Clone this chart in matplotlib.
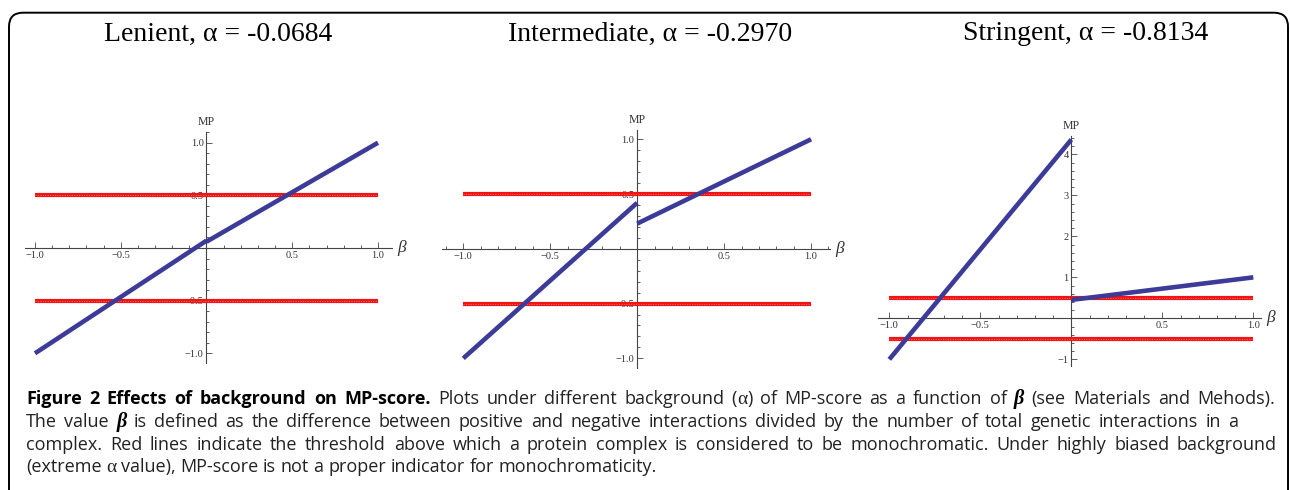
import matplotlib
matplotlib.use("Agg")
import matplotlib.pyplot as plt
from matplotlib.patches import FancyBboxPatch
from matplotlib.transforms import IdentityTransform
from matplotlib.offsetbox import TextArea, HPacker, AnchoredOffsetbox
from matplotlib.ticker import FixedLocator, MultipleLocator

# MP-score as a function of beta, under three backgrounds
panel_titles = ["Lenient, α = -0.0684", "Intermediate, α = -0.2970", "Stringent, α = -0.8134"]
beta_neg = [-1.0, 0.0]
beta_pos = [0.0, 1.0]
mp_neg = [[-1.0, 0.07], [-1.0, 0.42], [-1.0, 4.36]]
mp_pos = [[0.06, 1.0], [0.23, 1.0], [0.45, 1.0]]
threshold_beta = [-1.0, 1.0]
thresholds = [0.5, -0.5]

x_ticks = [-1.0, -0.5, 0.5, 1.0]
x_tick_labels = ["\u22121.0", "\u22120.5", "0.5", "1.0"]
y_ticks = [[1.0, 0.5, -0.5, -1.0], [1.0, 0.5, -0.5, -1.0], [4, 3, 2, 1, -1]]
y_tick_labels = [["1.0", "0.5", "\u22120.5", "\u22121.0"],
                 ["1.0", "0.5", "\u22120.5", "\u22121.0"],
                 ["4", "3", "2", "1", "\u22121"]]
y_minor_step = [0.1, 0.1, 0.2]

caption_lines = [
    [("Figure 2 Effects of background on MP-score.", "bold"),
     ("Plots under different background", "reg"), ("(α)", "alpha"),
     ("of MP-score as a function of", "reg"), ("β", "beta"),
     ("(see Materials and Mehods).", "reg")],
    [("The value", "reg"), ("β", "beta"),
     ("is defined as the difference between positive and negative interactions divided by the number of total genetic interactions in a", "reg")],
    [("complex. Red lines indicate the threshold above which a protein complex is considered to be monochromatic. Under highly biased background", "reg")],
    [("(extreme", "reg"), ("α", "alpha"),
     ("value), MP-score is not a proper indicator for monochromaticity.", "reg")],
]

# layout in pixels (figure is 1290x490)
W, H = 1290, 490
axes_px = [(24.7, 132.2, 391.7, 362.8), (442.4, 130.5, 830.2, 368.2), (878.4, 135.9, 1260.6, 365.5)]
xlims = [(-1.06, 1.08), (-1.12, 1.11), (-1.06, 1.04)]
ylims = [(-1.09, 1.10), (-1.09, 1.08), (-1.15, 4.45)]
title_x = [218, 650, 1086]
caption_y = [399, 422, 445, 467]
caption_w = [1249, 1212, 1251, None]

serif = ["Liberation Serif", "DejaVu Serif"]
sans = ["Open Sans", "DejaVu Sans"]
blue = "#3c3c98"
red = "#f01414"
axis_col = "#444444"
cap_size = 13


def word_box(word, kind):
    if kind == "bold":
        return TextArea(word, textprops=dict(family=sans, fontsize=cap_size, fontweight="bold", color="black"))
    if kind == "beta":
        return TextArea(word, textprops=dict(family=serif, fontsize=cap_size + 1.5, fontweight="bold",
                                             style="italic", color="black"))
    if kind == "alpha":
        parts = []
        for ch in word:
            if ch == "α":
                parts.append(TextArea(ch, textprops=dict(family=serif, fontsize=cap_size + 1, color="#222222")))
            else:
                parts.append(TextArea(ch, textprops=dict(family=sans, fontsize=cap_size, color="#222222")))
        return HPacker(children=parts, align="baseline", pad=0, sep=0)
    return TextArea(word, textprops=dict(family=sans, fontsize=cap_size, color="#222222"))


def main():
    fig = plt.figure(figsize=(12.9, 4.9), dpi=100)

    # rounded frame around the figure
    frame = FancyBboxPatch((9, -30), 1279, H - 12.7 + 30,
                           boxstyle="round,pad=0,rounding_size=14",
                           transform=IdentityTransform(), fill=False,
                           edgecolor="black", linewidth=1.4)
    fig.add_artist(frame)

    for i in range(3):
        x0, y0, x1, y1 = axes_px[i]
        ax = fig.add_axes([x0 / W, 1 - y1 / H, (x1 - x0) / W, (y1 - y0) / H])
        ax.set_xlim(*xlims[i])
        ax.set_ylim(*ylims[i])
        ax.patch.set_alpha(0)

        for t in thresholds:
            ax.plot(threshold_beta, [t, t], color=red, lw=3.0, solid_capstyle="butt", zorder=4)
            ax.plot(threshold_beta, [t, t], color="#ff6a6a", lw=0.7, ls=(0, (1, 1.5)), zorder=4)
        ax.plot(beta_neg, mp_neg[i], color=blue, lw=3.3, solid_capstyle="butt", zorder=5)
        ax.plot(beta_pos, mp_pos[i], color=blue, lw=3.3, solid_capstyle="butt", zorder=5)

        for s in ["top", "right"]:
            ax.spines[s].set_visible(False)
        for s in ["left", "bottom"]:
            ax.spines[s].set_position("zero")
            ax.spines[s].set_color(axis_col)
            ax.spines[s].set_linewidth(0.8)

        ax.xaxis.set_major_locator(FixedLocator(x_ticks))
        ax.set_xticklabels(x_tick_labels)
        ax.yaxis.set_major_locator(FixedLocator(y_ticks[i]))
        ax.set_yticklabels(y_tick_labels[i])
        ax.xaxis.set_minor_locator(MultipleLocator(0.1))
        ax.yaxis.set_minor_locator(MultipleLocator(y_minor_step[i]))
        ax.tick_params(which="both", direction="in", color=axis_col, width=0.6,
                       labelsize=7.5, labelcolor="#333333", pad=2)
        ax.tick_params(which="major", length=4)
        ax.tick_params(which="minor", length=2)
        for lab in ax.get_xticklabels() + ax.get_yticklabels():
            lab.set_family(serif)

        ax.annotate("MP", xy=(0, ylims[i][1]), xytext=(0, 3), textcoords="offset points",
                    ha="center", va="bottom", family=serif, fontsize=8.5, color="#333333")
        ax.annotate("β", xy=(xlims[i][1], 0), xytext=(4, 0), textcoords="offset points",
                    ha="left", va="center", family=serif, style="italic", fontsize=12.5,
                    color="#333333")

        fig.text(title_x[i] / W, 1 - 34 / H, panel_titles[i], ha="center", va="center",
                 family=serif, fontsize=20, color="black")

    # caption
    for line, y, wd in zip(caption_lines, caption_y, caption_w):
        boxes = []
        for text, kind in line:
            if kind in ("beta", "alpha"):
                boxes.append(word_box(text, kind))
            else:
                for w in text.split(" "):
                    boxes.append(word_box(w, kind))
        if wd is None:
            pack = HPacker(children=boxes, align="baseline", pad=0, sep=3.3)
        else:
            pack = HPacker(children=boxes, align="baseline", pad=0, sep=0, mode="expand", width=wd)
        box = AnchoredOffsetbox(loc="center left", child=pack, pad=0, borderpad=0, frameon=False,
                                bbox_to_anchor=(26 / W, 1 - y / H), bbox_transform=fig.transFigure)
        fig.add_artist(box)

    fig.savefig("out.png", dpi=100)


if __name__ == "__main__":
    main()
